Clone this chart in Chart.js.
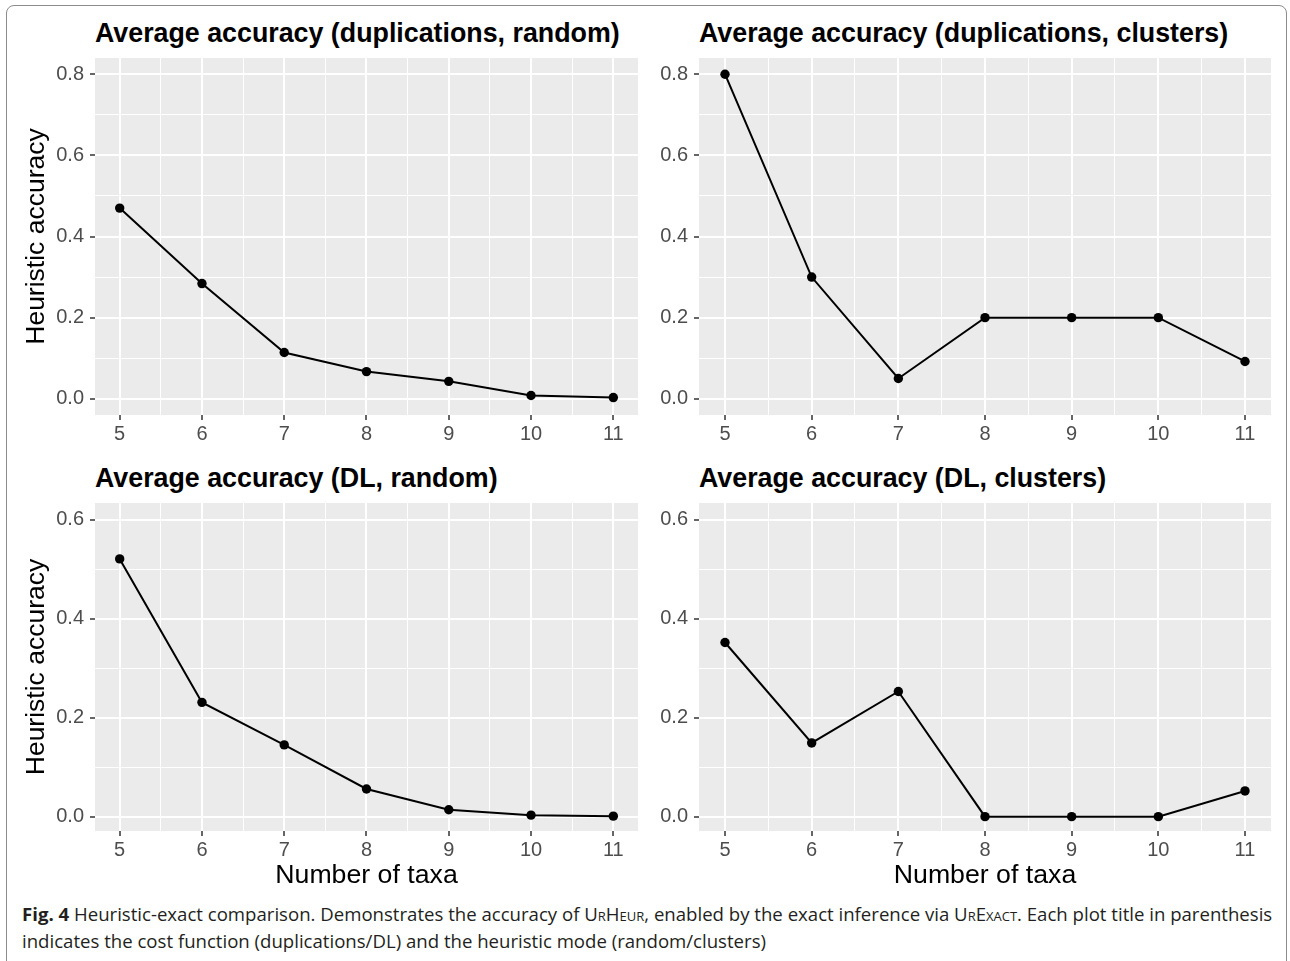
<!DOCTYPE html>
<html>
<head>
<meta charset="utf-8">
<title>Heuristic-exact comparison</title>
<script src="https://cdn.jsdelivr.net/npm/chart.js@4.4.1/dist/chart.umd.min.js"></script>
<style>
    body {
        margin: 0;
        width: 1290px;
        height: 961px;
        position: relative;
        overflow: hidden;
        background: #fff;
        font-family: "Liberation Sans", Arial, sans-serif;
    }
    .frame {
        position: absolute;
        left: 6px;
        top: 5px;
        width: 1279px;
        height: 1000px;
        border: 1px solid #8c8c8c;
        border-radius: 8px;
    }
    canvas { position: absolute; }
    .plot-title {
        position: absolute;
        font-weight: bold;
        font-size: 26.8px;
        line-height: 30px;
        color: #000;
        white-space: nowrap;
    }
    .caption {
        position: absolute;
        left: 22px;
        top: 900px;
        width: 1262px;
        font-family: "Open Sans", "Noto Sans", sans-serif;
        font-size: 18.6px;
        line-height: 27px;
        color: #231f20;
        letter-spacing: 0;
        white-space: nowrap;
    }
    .caption b { font-weight: bold; }
    .sc { font-variant: small-caps; }
</style>
</head>
<body>
<div class="frame"></div>

<div class="plot-title" style="left:95px; top:18px;">Average accuracy (duplications, random)</div>
<div class="plot-title" style="left:699px; top:18px;">Average accuracy (duplications, clusters)</div>
<div class="plot-title" style="left:95px; top:463px;">Average accuracy (DL, random)</div>
<div class="plot-title" style="left:699px; top:463px;">Average accuracy (DL, clusters)</div>

<canvas id="dupRandomChart" width="630" height="405" style="left:14px; top:50px;"></canvas>
<canvas id="dupClustersChart" width="633" height="405" style="left:644px; top:50px;"></canvas>
<canvas id="dlRandomChart" width="630" height="405" style="left:14px; top:495px;"></canvas>
<canvas id="dlClustersChart" width="633" height="405" style="left:644px; top:495px;"></canvas>

<div class="caption"><b>Fig. 4</b> Heuristic-exact comparison. Demonstrates the accuracy of <span class="sc">UrHeur</span>, enabled by the exact inference via <span class="sc">UrExact</span>. Each plot title in parenthesis<br>indicates the cost function (duplications/DL) and the heuristic mode (random/clusters)</div>

<script>
// Number of taxa on the x axis
const taxa = [5, 6, 7, 8, 9, 10, 11];

// Average heuristic accuracy
const dupRandom = [0.470, 0.284, 0.114, 0.067, 0.043, 0.008, 0.003];
const dupClusters = [0.800, 0.300, 0.050, 0.200, 0.200, 0.200, 0.092];
const dlRandom = [0.521, 0.231, 0.145, 0.056, 0.014, 0.003, 0.001];
const dlClusters = [0.352, 0.149, 0.253, 0.000, 0.000, 0.000, 0.052];

// Labelled tick values
const xTickLabels = [5, 6, 7, 8, 9, 10, 11];
const yTickLabelsTop = [0.0, 0.2, 0.4, 0.6, 0.8];
const yTickLabelsBottom = [0.0, 0.2, 0.4, 0.6];

const isIn = (list, v) => list.some(t => Math.abs(t - v) < 1e-6);
const axisFont = '"Liberation Sans", Arial, sans-serif';

// Grey panel background like ggplot
const panelBackground = {
    id: 'panelBackground',
    beforeDraw(chart) {
        const { ctx, chartArea: a } = chart;
        ctx.save();
        ctx.fillStyle = '#EBEBEB';
        ctx.fillRect(a.left, a.top, a.right - a.left, a.bottom - a.top);
        ctx.restore();
    }
};

function makeChart(id, values, cfg) {
    const ctx = document.getElementById(id).getContext('2d');
    return new Chart(ctx, {
        type: 'line',
        data: {
            datasets: [{
                data: taxa.map((t, i) => ({ x: t, y: values[i] })),
                borderColor: '#000',
                borderWidth: 2,
                pointRadius: 4.7,
                pointBackgroundColor: '#000',
                pointBorderWidth: 0,
                tension: 0
            }]
        },
        plugins: [panelBackground],
        options: {
            responsive: false,
            animation: false,
            layout: { padding: { top: 8, right: 6, left: 0, bottom: 0 } },
            plugins: {
                legend: { display: false },
                tooltip: { enabled: false }
            },
            scales: {
                x: {
                    type: 'linear',
                    min: 4.7,
                    max: 11.3,
                    afterFit: s => {
                        s.height = cfg.xHeight;
                        s.paddingLeft = 0;
                        s.paddingRight = 0;
                    },
                    border: { display: false },
                    grid: {
                        color: '#fff',
                        lineWidth: c => isIn(xTickLabels, c.tick.value) ? 2 : 1,
                        tickLength: 5,
                        tickColor: c => isIn(xTickLabels, c.tick.value) ? '#333' : 'rgba(0,0,0,0)',
                        tickWidth: 1.5
                    },
                    ticks: {
                        stepSize: 0.5,
                        includeBounds: false,
                        autoSkip: false,
                        maxRotation: 0,
                        padding: 2,
                        color: '#4D4D4D',
                        font: { family: axisFont, size: 20 },
                        callback: v => isIn(xTickLabels, v) ? String(Math.round(v)) : ''
                    },
                    title: {
                        display: cfg.xTitle,
                        text: 'Number of taxa',
                        color: '#000',
                        font: { family: axisFont, size: 26.7 },
                        padding: { top: 0, bottom: 8 }
                    }
                },
                y: {
                    min: cfg.yMin,
                    max: cfg.yMax,
                    afterFit: s => {
                        s.width = cfg.yWidth;
                        s.paddingTop = 0;
                        s.paddingBottom = 0;
                    },
                    border: { display: false },
                    grid: {
                        color: '#fff',
                        lineWidth: c => isIn(cfg.yLabels, c.tick.value) ? 2 : 1,
                        tickLength: 5,
                        tickColor: c => isIn(cfg.yLabels, c.tick.value) ? '#333' : 'rgba(0,0,0,0)',
                        tickWidth: 1.5
                    },
                    ticks: {
                        stepSize: 0.1,
                        includeBounds: false,
                        autoSkip: false,
                        padding: 6,
                        color: '#4D4D4D',
                        font: { family: axisFont, size: 20 },
                        callback: v => isIn(cfg.yLabels, v) ? v.toFixed(1) : ''
                    },
                    title: {
                        display: cfg.yTitle,
                        text: 'Heuristic accuracy',
                        color: '#000',
                        font: { family: axisFont, size: 26.5 },
                        padding: { top: 7, bottom: 0 }
                    }
                }
            }
        }
    });
}

// Top row shares the 0 - 0.8 range, bottom row 0 - 0.6
makeChart('dupRandomChart', dupRandom, { yMin: -0.04, yMax: 0.84, yLabels: yTickLabelsTop, yWidth: 81, xHeight: 40, yTitle: true, xTitle: false });
makeChart('dupClustersChart', dupClusters, { yMin: -0.04, yMax: 0.84, yLabels: yTickLabelsTop, yWidth: 55, xHeight: 40, yTitle: false, xTitle: false });
makeChart('dlRandomChart', dlRandom, { yMin: -0.029, yMax: 0.634, yLabels: yTickLabelsBottom, yWidth: 81, xHeight: 69, yTitle: true, xTitle: true });
makeChart('dlClustersChart', dlClusters, { yMin: -0.029, yMax: 0.634, yLabels: yTickLabelsBottom, yWidth: 55, xHeight: 69, yTitle: false, xTitle: true });
</script>
</body>
</html>
